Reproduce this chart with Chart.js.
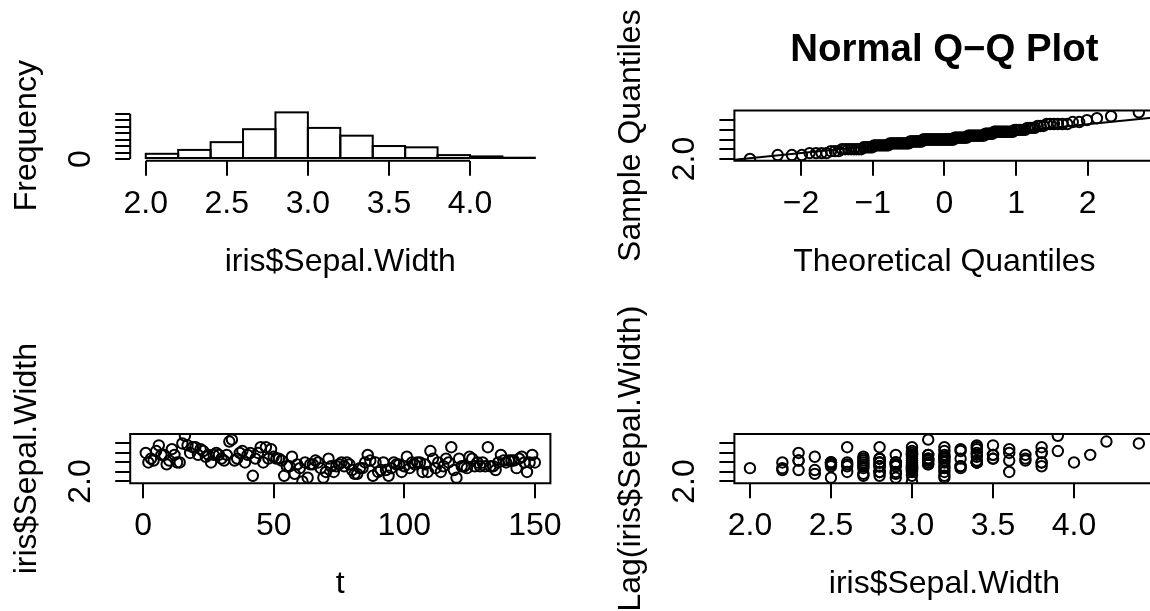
<!DOCTYPE html>
<html>
<head>
<meta charset="utf-8">
<title>iris$Sepal.Width</title>
<script src="https://cdn.jsdelivr.net/npm/chart.js@4.4.1/dist/chart.umd.min.js"></script>
<style>
  html, body { margin: 0; padding: 0; background: #ffffff; }
  #page { position: relative; width: 1150px; height: 611px; overflow: hidden; background: #ffffff; }
  #page canvas { position: absolute; }
</style>
</head>
<body>
<div id="page">
  <canvas id="histChart" width="575" height="306" style="left:0px;top:0px"></canvas>
  <canvas id="qqChart" width="605" height="306" style="left:575px;top:0px"></canvas>
  <canvas id="seriesChart" width="575" height="305" style="left:0px;top:306px"></canvas>
  <canvas id="lagChart" width="605" height="305" style="left:575px;top:306px"></canvas>
</div>
<script>
// iris$Sepal.Width, observations 1..150
const sepalWidth = [
  3.5, 3.0, 3.2, 3.1, 3.6, 3.9, 3.4, 3.4, 2.9, 3.1, 3.7, 3.4, 3.0, 3.0, 4.0, 4.4, 3.9, 3.5, 3.8, 3.8,
  3.4, 3.7, 3.6, 3.3, 3.4, 3.0, 3.4, 3.5, 3.4, 3.2, 3.1, 3.4, 4.1, 4.2, 3.1, 3.2, 3.5, 3.6, 3.0, 3.4,
  3.5, 2.3, 3.2, 3.5, 3.8, 3.0, 3.8, 3.2, 3.7, 3.3, 3.2, 3.2, 3.1, 2.3, 2.8, 2.8, 3.3, 2.4, 2.9, 2.7,
  2.0, 3.0, 2.2, 2.9, 2.9, 3.1, 3.0, 2.7, 2.2, 2.5, 3.2, 2.8, 2.5, 2.8, 2.9, 3.0, 2.8, 3.0, 2.9, 2.6,
  2.4, 2.4, 2.7, 2.7, 3.0, 3.4, 3.1, 2.3, 3.0, 2.5, 2.6, 3.0, 2.6, 2.3, 2.7, 3.0, 2.9, 2.9, 2.5, 2.8,
  3.3, 2.7, 3.0, 2.9, 3.0, 3.0, 2.5, 2.9, 2.5, 3.6, 3.2, 2.7, 3.0, 2.5, 2.8, 3.2, 3.0, 3.8, 2.6, 2.2,
  3.2, 2.8, 2.8, 2.7, 3.3, 3.2, 2.8, 3.0, 2.8, 3.0, 2.8, 3.8, 2.8, 2.8, 2.6, 3.0, 3.4, 3.1, 3.0, 3.1,
  3.1, 3.1, 2.7, 3.2, 3.3, 3.0, 2.5, 3.0, 3.4, 3.0
];

// hist(): bin edges and counts
const histBreaks = [2.0, 2.2, 2.4, 2.6, 2.8, 3.0, 3.2, 3.4, 3.6, 3.8, 4.0, 4.2, 4.4];
const histCounts = [4, 7, 13, 23, 36, 24, 18, 10, 9, 3, 2, 1];

// qqnorm(): theoretical quantiles for the lower 75 ranks, the upper half mirrors them
const qqTheoryLower = [
  -2.713, -2.326, -2.128, -1.989, -1.881, -1.791, -1.714, -1.645, -1.583, -1.527,
  -1.476, -1.428, -1.383, -1.341, -1.301, -1.263, -1.227, -1.192, -1.159, -1.126,
  -1.095, -1.065, -1.036, -1.008, -0.981, -0.954, -0.928, -0.903, -0.878, -0.854,
  -0.830, -0.806, -0.783, -0.761, -0.739, -0.717, -0.695, -0.674, -0.654, -0.633,
  -0.613, -0.593, -0.573, -0.553, -0.534, -0.515, -0.496, -0.477, -0.459, -0.440,
  -0.422, -0.403, -0.385, -0.367, -0.349, -0.332, -0.314, -0.297, -0.279, -0.262,
  -0.245, -0.228, -0.210, -0.193, -0.176, -0.160, -0.143, -0.126, -0.109, -0.092,
  -0.075, -0.059, -0.042, -0.025, -0.008
];
// qqline(): goes through the 1st and 3rd quartiles
const qqLineTheory = [-0.6745, 0.6745];
const qqLineSample = [2.8, 3.3];

// tick values
const histXTicks = [2.0, 2.5, 3.0, 3.5, 4.0];
const histYTicks = [0, 5, 10, 15, 20, 25, 30, 35];
const widthTicks = [2.0, 2.5, 3.0, 3.5, 4.0];
const qqXTicks = [-2, -1, 0, 1, 2];
const timeTicks = [0, 50, 100, 150];

const FONT = '"Liberation Sans", Arial, Helvetica, sans-serif';
Chart.defaults.font.family = FONT;
Chart.defaults.color = '#000';

// R pads each axis range by 4 percent
function padRange(lo, hi) {
  const d = (hi - lo) * 0.04;
  return [lo - d, hi + d];
}
const fmt1 = v => v.toFixed(1);
const fmtInt = v => (v < 0 ? '\u2212' + Math.abs(v) : String(v));

// box / axis lines, bar outlines, the surviving y tick label and the rotated y title
const rFrame = {
  id: 'rFrame',
  afterDatasetsDraw(chart, args, o) {
    if (!o.outlineBars) return;
    const ctx = chart.ctx;
    ctx.save();
    ctx.strokeStyle = '#000';
    ctx.lineWidth = 2;
    chart.getDatasetMeta(0).data.forEach(bar => {
      const p = bar.getProps(['x', 'y', 'base', 'width'], true);
      ctx.strokeRect(p.x - p.width / 2, p.y, p.width, p.base - p.y);
    });
    ctx.restore();
  },
  afterDraw(chart, args, o) {
    const ctx = chart.ctx, a = chart.chartArea;
    const x = chart.scales.x, y = chart.scales.y;
    ctx.save();
    ctx.strokeStyle = '#000';
    ctx.lineWidth = 2;
    ctx.beginPath();
    if (o.box) {
      ctx.rect(a.left, a.top, a.right - a.left, a.bottom - a.top);
    } else {
      const xt = x.ticks, yt = y.ticks;
      ctx.moveTo(x.getPixelForValue(xt[0].value), a.bottom);
      ctx.lineTo(x.getPixelForValue(xt[xt.length - 1].value), a.bottom);
      ctx.moveTo(a.left, y.getPixelForValue(yt[0].value));
      ctx.lineTo(a.left, y.getPixelForValue(yt[yt.length - 1].value));
    }
    ctx.stroke();

    ctx.fillStyle = '#000';
    ctx.textAlign = 'center';
    ctx.textBaseline = 'alphabetic';
    ctx.font = '32px ' + FONT;
    ctx.save();
    ctx.translate(a.left - 40, y.getPixelForValue(y.ticks[0].value));
    ctx.rotate(-Math.PI / 2);
    ctx.fillText(o.yFirst, 0, 0);
    ctx.restore();

    ctx.translate(a.left - 94, (a.top + a.bottom) / 2);
    ctx.rotate(-Math.PI / 2);
    ctx.fillText(o.yTitle, 0, 0);
    ctx.restore();
  }
};

const tickFont = {family: FONT, size: 32, lineHeight: 1.2};
const gridStyle = {display: true, drawOnChartArea: false, drawTicks: true, tickLength: 15,
                   color: '#000', lineWidth: 2, offset: false};

function panel(id, g, spec) {
  const scales = {
    x: {
      type: 'linear', position: 'bottom', min: spec.xRange[0], max: spec.xRange[1],
      bounds: 'data', offset: false,
      afterBuildTicks: s => { s.ticks = spec.xTicks.map(v => ({value: v})); },
      afterFit: s => { s.height = g.h - g.bottom; },
      grid: gridStyle,
      border: {display: false},
      ticks: {display: true, autoSkip: false, maxRotation: 0, minRotation: 0, padding: 8.7,
              color: '#000', font: tickFont, callback: v => spec.xFmt(v)},
      title: {display: true, text: spec.xTitle, color: '#000', font: tickFont,
              padding: {top: 0, bottom: g.xTitlePad}}
    },
    y: {
      type: 'linear', position: 'left', min: spec.yRange[0], max: spec.yRange[1],
      bounds: 'data',
      afterBuildTicks: s => { s.ticks = spec.yTicks.map(v => ({value: v})); },
      afterFit: s => { s.width = g.left; },
      grid: gridStyle,
      border: {display: false},
      ticks: {display: false}
    }
  };
  const title = spec.title
    ? {display: true, text: spec.title, color: '#000', fullSize: false,
       font: {family: FONT, size: 38.4, weight: 'bold', lineHeight: 1.2},
       padding: {top: 27.2, bottom: g.top - 27.2 - 46.08}}
    : {display: false};
  return new Chart(document.getElementById(id), {
    type: spec.type,
    data: {datasets: spec.datasets},
    options: {
      responsive: false,
      devicePixelRatio: 1,
      animation: false,
      events: [],
      layout: {padding: {left: 0, top: spec.title ? 0 : g.top, right: g.w - g.right, bottom: 0}},
      plugins: {
        legend: {display: false},
        tooltip: {enabled: false},
        title: title,
        rFrame: {box: spec.box, outlineBars: spec.type === 'bar', yFirst: spec.yFirst, yTitle: spec.yTitle}
      },
      scales: scales
    },
    plugins: [rFrame]
  });
}

const circles = {
  showLine: false, clip: 0,
  pointStyle: 'circle', pointRadius: 5.2, pointHoverRadius: 5.2,
  pointBorderWidth: 2, pointBorderColor: '#000', pointBackgroundColor: 'rgba(0,0,0,0)',
  borderColor: '#000', backgroundColor: 'rgba(0,0,0,0)'
};

const wMin = Math.min(...sepalWidth), wMax = Math.max(...sepalWidth);

// 1. histogram
panel('histChart',
  {w: 575, h: 306, left: 130.2, right: 550.4, top: 110.5, bottom: 160.85, xTitlePad: 25.1},
  {
    type: 'bar', box: false,
    xRange: padRange(histBreaks[0], histBreaks[histBreaks.length - 1]),
    yRange: padRange(0, Math.max(...histCounts)),
    xTicks: histXTicks, yTicks: histYTicks, xFmt: fmt1,
    yFirst: String(histYTicks[0]), xTitle: 'iris$Sepal.Width', yTitle: 'Frequency',
    datasets: [{
      data: histCounts.map((c, i) => ({x: (histBreaks[i] + histBreaks[i + 1]) / 2, y: c})),
      backgroundColor: '#ffffff', borderWidth: 0, inflateAmount: 0,
      barPercentage: 1, categoryPercentage: 1, grouped: false
    }]
  });

// 2. normal Q-Q plot
const qqX = qqTheoryLower.concat(qqTheoryLower.slice().reverse().map(v => -v));
const qqY = sepalWidth.slice().sort((a, b) => a - b);
const qqXRange = padRange(Math.min(...qqX), Math.max(...qqX));
const qqSlope = (qqLineSample[1] - qqLineSample[0]) / (qqLineTheory[1] - qqLineTheory[0]);
const qqIntercept = qqLineSample[0] - qqSlope * qqLineTheory[0];
panel('qqChart',
  {w: 605, h: 306, left: 159.4, right: 579.4, top: 110.5, bottom: 160.8, xTitlePad: 25.1},
  {
    type: 'scatter', box: true, title: 'Normal Q\u2212Q Plot',
    xRange: qqXRange, yRange: padRange(wMin, wMax),
    xTicks: qqXTicks, yTicks: widthTicks, xFmt: fmtInt,
    yFirst: fmt1(widthTicks[0]), xTitle: 'Theoretical Quantiles', yTitle: 'Sample Quantiles',
    datasets: [
      Object.assign({data: qqX.map((v, i) => ({x: v, y: qqY[i]}))}, circles),
      {type: 'line', data: qqXRange.map(v => ({x: v, y: qqIntercept + qqSlope * v})),
       borderColor: '#000', borderWidth: 2, pointRadius: 0, fill: false, clip: 0}
    ]
  });

// 3. series against t
panel('seriesChart',
  {w: 575, h: 305, left: 130.2, right: 550.4, top: 128, bottom: 177.3, xTitlePad: 7.4},
  {
    type: 'scatter', box: true,
    xRange: padRange(1, sepalWidth.length), yRange: padRange(wMin, wMax),
    xTicks: timeTicks, yTicks: widthTicks, xFmt: fmtInt,
    yFirst: fmt1(widthTicks[0]), xTitle: 't', yTitle: 'iris$Sepal.Width',
    datasets: [Object.assign({data: sepalWidth.map((v, i) => ({x: i + 1, y: v}))}, circles)]
  });

// 4. lag plot: value against the previous value
const lagPairs = sepalWidth.slice(1).map((v, i) => ({x: v, y: sepalWidth[i]}));
panel('lagChart',
  {w: 605, h: 305, left: 159.4, right: 579.4, top: 128, bottom: 177.3, xTitlePad: 7.4},
  {
    type: 'scatter', box: true,
    xRange: padRange(Math.min(...lagPairs.map(p => p.x)), Math.max(...lagPairs.map(p => p.x))),
    yRange: padRange(Math.min(...lagPairs.map(p => p.y)), Math.max(...lagPairs.map(p => p.y))),
    xTicks: widthTicks, yTicks: widthTicks, xFmt: fmt1,
    yFirst: fmt1(widthTicks[0]), xTitle: 'iris$Sepal.Width', yTitle: 'Lag(iris$Sepal.Width)',
    datasets: [Object.assign({data: lagPairs}, circles)]
  });
</script>
</body>
</html>
